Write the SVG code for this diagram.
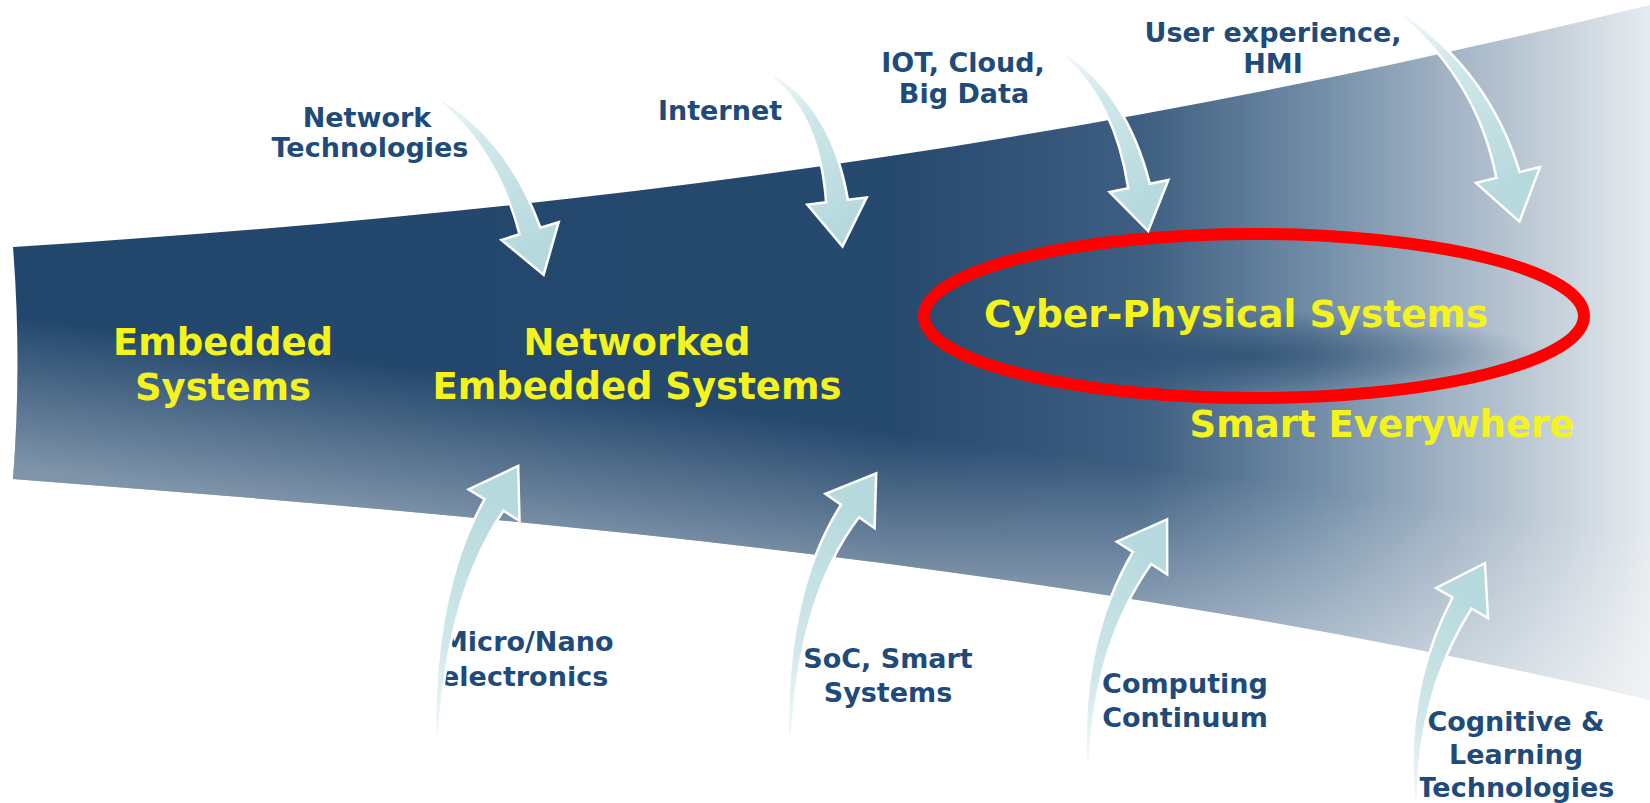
<svg xmlns="http://www.w3.org/2000/svg" width="1650" height="803" viewBox="0 0 1650 803">
<defs>
<style>
.yl{font-family:"DejaVu Sans","Liberation Sans",sans-serif;font-weight:bold;font-size:37px;fill:#f4f31e;text-anchor:middle}
.bl{font-family:"DejaVu Sans","Liberation Sans",sans-serif;font-weight:bold;font-size:27px;fill:#1f4b7b;text-anchor:middle}
.ad{fill:url(#gDown);stroke:#ffffff;stroke-width:2.5;stroke-linejoin:miter}
.au{fill:url(#gUp);stroke:#ffffff;stroke-width:2.5;stroke-linejoin:miter}
</style>
<linearGradient id="gBase" gradientUnits="userSpaceOnUse" x1="13" y1="0" x2="1650" y2="0">
<stop offset="0" stop-color="#22476c"/>
<stop offset="0.54" stop-color="#26496e"/>
<stop offset="0.69" stop-color="#3e5f81"/>
<stop offset="0.79" stop-color="#6e8aa5"/>
<stop offset="0.88" stop-color="#a3b4c5"/>
<stop offset="1" stop-color="#e6ebef"/>
</linearGradient>
<linearGradient id="gLow" gradientUnits="userSpaceOnUse" x1="500" y1="380" x2="480" y2="530">
<stop offset="0" stop-color="#ffffff" stop-opacity="0"/>
<stop offset="1" stop-color="#ffffff" stop-opacity="0.42"/>
</linearGradient>
<radialGradient id="gStreak" cx="0.5" cy="0.5" r="0.5">
<stop offset="0" stop-color="#22466b" stop-opacity="0.7"/>
<stop offset="0.6" stop-color="#22466b" stop-opacity="0.3"/>
<stop offset="1" stop-color="#22466b" stop-opacity="0"/>
</radialGradient>
<linearGradient id="gDown" x1="0" y1="0" x2="0.4" y2="1">
<stop offset="0" stop-color="#f2f9fa"/>
<stop offset="0.35" stop-color="#cfe7ea"/>
<stop offset="1" stop-color="#b6d9dd"/>
</linearGradient>
<linearGradient id="gUp" x1="0" y1="1" x2="0.3" y2="0">
<stop offset="0" stop-color="#f2f9fa"/>
<stop offset="0.35" stop-color="#cfe7ea"/>
<stop offset="1" stop-color="#b6d9dd"/>
</linearGradient>
<clipPath id="cF">
<path d="M13,247 C600,210 1100,140 1650,5 L1650,700 C1100,570 550,520 13,479 Q22,363 13,247 Z"/>
</clipPath>
</defs>
<rect x="0" y="0" width="1650" height="803" fill="#ffffff"/>
<g id="funnel">
<path d="M13,247 C600,210 1100,140 1650,5 L1650,700 C1100,570 550,520 13,479 Q22,363 13,247 Z" fill="url(#gBase)"/>
<g clip-path="url(#cF)">
<rect x="0" y="0" width="1650" height="803" fill="url(#gLow)"/>
<ellipse cx="1250" cy="355" rx="290" ry="45" fill="url(#gStreak)"/>
</g>
</g>
<g id="embedded">
<text class="yl" x="223" y="355">Embedded</text>
<text class="yl" x="223" y="400">Systems</text>
</g>
<g id="networked">
<text class="yl" x="637" y="355">Networked</text>
<text class="yl" x="637" y="399">Embedded Systems</text>
</g>
<g id="cps">
<text class="yl" x="1236" y="327" textLength="504" lengthAdjust="spacingAndGlyphs">Cyber-Physical Systems</text>
<ellipse cx="1254" cy="316" rx="330" ry="82" fill="none" stroke="#ff0000" stroke-width="12"/>
</g>
<g id="smart">
<text class="yl" x="1382" y="437">Smart Everywhere</text>
</g>
<g id="network-tech">
<text class="bl" x="367" y="127">Network</text>
<text class="bl" x="370" y="157">Technologies</text>
</g>
<g id="internet">
<text class="bl" x="720" y="120">Internet</text>
</g>
<g id="iot">
<text class="bl" x="963" y="72">IOT, Cloud,</text>
<text class="bl" x="964" y="103">Big Data</text>
</g>
<g id="ux">
<text class="bl" x="1273" y="42">User experience,</text>
<text class="bl" x="1273" y="73">HMI</text>
</g>
<g id="micro">
<text class="bl" x="441" y="651" style="text-anchor:start">Micro/Nano</text>
<text class="bl" x="441" y="686" style="text-anchor:start">electronics</text>
</g>
<g id="soc">
<text class="bl" x="888" y="668">SoC, Smart</text>
<text class="bl" x="888" y="702">Systems</text>
</g>
<g id="computing">
<text class="bl" x="1185" y="693">Computing</text>
<text class="bl" x="1185" y="727">Continuum</text>
</g>
<g id="cognitive">
<text class="bl" x="1516" y="731">Cognitive &amp;</text>
<text class="bl" x="1516" y="764">Learning</text>
<text class="bl" x="1516" y="797">Technologies</text>
</g>
<g id="connectors">
<path class="ad" d="M438.8,101.6 Q497.3,149.1 519.5,234.2 L501.4,239.9 L543.6,274.9 L558.7,222.2 L540.5,227.8 Q508.7,140.9 441.2,98.4 Z"/>
<path class="ad" d="M771.9,77.7 Q819.9,115.8 826.1,202.3 L807.3,204.6 L842.5,246.5 L866.7,197.4 L847.9,199.7 Q832.1,108.2 774.1,74.3 Z"/>
<path class="ad" d="M1063.8,56.6 Q1115.1,101.7 1128.2,188.2 L1109.6,192 L1148.2,231.1 L1168.4,180 L1149.8,183.8 Q1126.9,94.3 1066.2,53.4 Z"/>
<path class="ad" d="M1401.8,16.6 Q1477.7,82.1 1496.4,177.9 L1476,182.9 L1519.5,221.6 L1540,167.1 L1519.6,172.1 Q1490.3,73.9 1404.2,13.4 Z"/>
<path class="au" d="M439,735.1 Q447.7,593 503.4,510.8 L519.5,520.8 L518.2,465.9 L468.5,489.3 L484.6,499.2 Q434.3,589 435,734.9 Z"/>
<path class="au" d="M792,735 Q799.7,595.2 859,517.3 L874.6,528.1 L876.2,473.3 L825.4,493.9 L841,504.7 Q786.3,590.8 788,735 Z"/>
<path class="au" d="M1090,760 Q1094.7,644 1151.2,564 L1167.2,574.4 L1167.1,519.4 L1116.8,541.7 L1132.8,552 Q1081.3,640 1086,760 Z"/>
<path class="au" d="M1418,799.9 Q1417.8,693.6 1471.5,608.5 L1488,618 L1485,563.2 L1436,588 L1452.5,597.5 Q1404.2,690.4 1414,800.1 Z"/>
</g>
</svg>
